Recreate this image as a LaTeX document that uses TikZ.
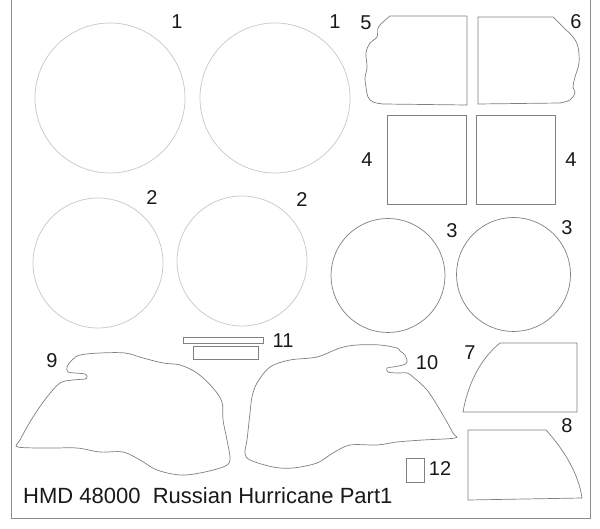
\documentclass[tikz,border=0pt]{standalone}
\usepackage{fontspec}
\setmainfont{Liberation Sans}
\begin{document}
\begin{tikzpicture}[x=1pt,y=-1pt,
  light/.style={draw=black!22,line width=0.7pt},
  dark/.style={draw=black!50,line width=0.7pt},
  frame/.style={draw=black!45,line width=0.9pt},
  num/.style={font=\fontsize{20}{24}\selectfont,inner sep=0pt,text=black!90},
  titlefont/.style={font=\fontsize{22}{26}\selectfont,inner sep=0pt,text=black!90}]
\useasboundingbox (0,0) rectangle (600,529);
\fill[white] (0,0) rectangle (600,529);
\draw[frame] (11,-5) -- (11,518) -- (590,518) -- (590,-5);
% circles 1
\draw[light] (110,98) circle (75);
\draw[light] (275,98) circle (75);
\node[num] (l1a) at (177,22) {1};
\node[num] (l1b) at (335,22) {1};
% circles 2
\draw[light] (98,263) circle (65);
\draw[light] (242,261) circle (65);
\node[num] (l2a) at (152,198) {2};
\node[num] (l2b) at (302,200) {2};
% circles 3
\draw[dark] (388,275.5) circle (57);
\draw[dark] (513.5,274.5) circle (57);
\node[num] (l3a) at (452,231) {3};
\node[num] (l3b) at (567,228) {3};
% shape 5
\draw[dark] (467,16) -- (467,105) -- (383,104)
  -- plot[smooth,tension=0.6] coordinates {(383,104) (373,102) (368,97) (366,87) (365,78) (367,67) (366,53) (370,43) (377,37) (378,28) (383,22) (390,16)} -- cycle;
\node[num] (l5) at (366,23) {5};
% shape 6
\draw[dark] (478,104) -- (478,17) -- (553,17)
  -- plot[smooth,tension=0.6] coordinates {(553,17) (563,27) (573,37) (578,47) (579,63) (575,77) (573,87) (575,93) (570,100) (560,103)} -- cycle;
\node[num] (l6) at (576,22) {6};
% shapes 4
\draw[dark] (387,115) rectangle (466,204);
\draw[dark] (476,115) rectangle (555,204);
\node[num] (l4a) at (367,160) {4};
\node[num] (l4b) at (571,160) {4};
% shape 11
\draw[dark] (183,337) rectangle (263,343);
\draw[dark] (193,346) rectangle (258,359);
\node[num] (l11) at (283,341) {11};
% shape 9
\draw[dark] plot[smooth cycle,tension=0.55] coordinates {
 (80,355) (100,353) (125,353) (143,358) (163,363) (180,365) (197,373) (213,388) (222,402) (223,420) (227,440) (230,460) (223,467) (200,473) (180,475) (157,470) (140,460) (123,452) (100,452) (77,448) (50,448) (18,447) (20,440) (33,417) (47,397) (60,383) (73,380) (85,379) (87,377) (85,374) (75,373) (68,372) (67,367) (72,360)};
\node[num] (l9) at (52,361) {9};
% shape 10
\draw[dark] plot[smooth cycle,tension=0.55] coordinates {
 (397,348) (380,345) (357,345) (340,348) (317,357) (290,360) (270,367) (257,383) (252,397) (250,413) (247,440) (245,453) (250,460) (273,467) (293,468) (317,463) (333,453) (350,445) (377,445) (397,442) (423,440) (455,438) (453,433) (440,410) (427,390) (413,377) (407,373) (397,373) (388,372) (387,368) (393,367) (403,365) (407,362) (405,355) (400,351)};
\node[num] (l10) at (427,363) {10};
% shape 7
\draw[dark] (500,343) -- (577,343) -- (577,412) -- (463,412)
  .. controls (469,378) and (484,356) .. (500,343) -- cycle;
\node[num] (l7) at (470,353) {7};
% shape 8
\draw[dark] (468,430) -- (546,430) .. controls (566,452) and (579,476) .. (582,498) -- (468,500) -- cycle;
\node[num] (l8) at (567,426) {8};
% shape 12
\draw[dark] (406,458) rectangle (424,482);
\node[num] (l12) at (440,469) {12};
% title
\node[titlefont,anchor=base west] (title) at (23,503) {HMD 48000\ \ Russian Hurricane Part1};
\end{tikzpicture}
\end{document}
